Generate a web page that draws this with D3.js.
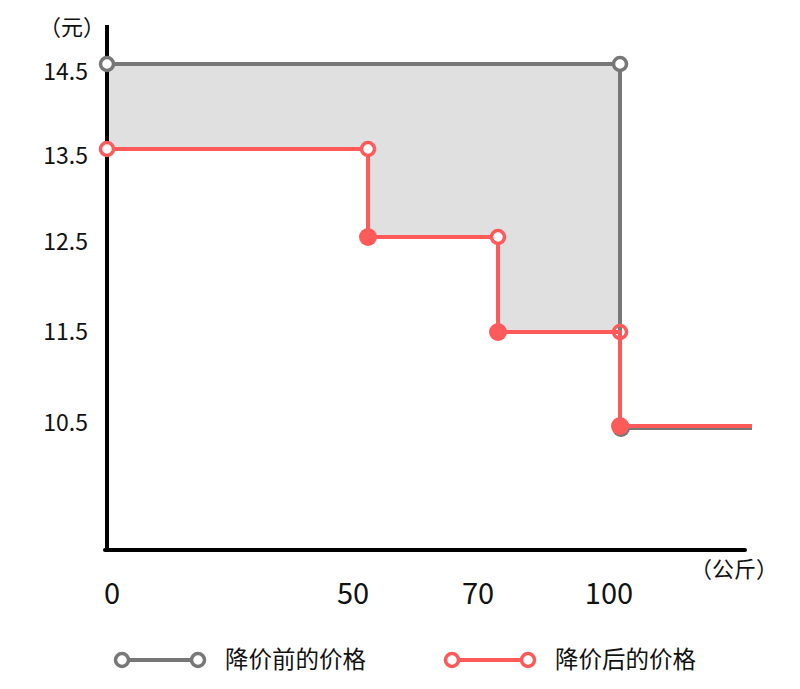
<!DOCTYPE html>
<html><head><meta charset="utf-8">
<script src="https://cdn.jsdelivr.net/npm/d3@7"></script>
<style>body{margin:0;background:#fff;} svg{display:block;font-family:"Noto Sans CJK SC","Noto Sans",sans-serif;}</style>
</head><body>
<script>
// ---- data ----
const xTicks = [0, 50, 70, 100];
const xEnd = 120; // unlabeled end of the steps
const yTicks = [10.5, 11.5, 12.5, 13.5, 14.5];
const beforeX = [0, 100, 100, xEnd];
const beforeY = [14.5, 14.5, 10.48, 10.48];
const beforeOpen = [[0, 14.5], [100, 14.5]];
const beforeFilled = [[100, 10.48]];
const afterX = [0, 50, 50, 70, 70, 100, 100, xEnd];
const afterY = [13.5, 13.5, 12.5, 12.5, 11.5, 11.5, 10.5, 10.5];
const afterOpen = [[0, 13.5], [50, 13.5], [70, 12.5], [100, 11.5]];
const afterFilled = [[50, 12.5], [70, 11.5], [100, 10.5]];
const seriesNames = ["降价前的价格", "降价后的价格"];
const colors = ["#777777", "#ff5a5a"];
const yUnit = "（元）", xUnit = "（公斤）";

// ---- scales (hand-spaced axes) ----
const W = 800, H = 689;
const x = d3.scaleLinear().domain([0, 50, 70, 100, xEnd]).range([107, 368, 498, 620, 752]);
const xLabel = d3.scaleLinear().domain([0, 50, 70, 100]).range([112, 353, 478, 609]);
const y = d3.scaleLinear().domain([9.2, 10.5, 11.5, 12.5, 13.5, 14.5, 14.95]).range([550, 426, 332, 237, 149, 64, 25]);
const yLabel = d3.scaleLinear().domain([10.5, 11.5, 12.5, 13.5, 14.5]).range([423, 332, 242, 156, 72]);

const svg = d3.select("body").append("svg").attr("width", W).attr("height", H);

// shaded area between the two step lines (0..100)
const shadePts = afterX.map((v, i) => [v, afterY[i]]).filter(p => p[0] <= 100 && !(p[0] === 100 && p[1] === 10.5));
const poly = [[0, 14.5], [100, 14.5]].concat(shadePts.slice().reverse());
svg.append("path")
  .attr("d", d3.line().x(d => x(d[0])).y(d => y(d[1]))(poly) + "Z")
  .attr("fill", "#e0e0e0");

// axes
svg.append("line").attr("x1", x(0)).attr("x2", x(0)).attr("y1", y(14.95)).attr("y2", y(9.2) + 2)
  .attr("stroke", "#000").attr("stroke-width", 4);
svg.append("line").attr("x1", x(0) - 2).attr("x2", x(xEnd) - 7).attr("y1", y(9.2)).attr("y2", y(9.2))
  .attr("stroke", "#000").attr("stroke-width", 4).attr("stroke-linecap", "round");

svg.selectAll(".yt").data(yTicks).enter().append("text")
  .attr("x", 88).attr("y", d => yLabel(d)).attr("dy", "0.35em")
  .attr("text-anchor", "end").attr("font-size", 23).attr("fill", "#111").text(d => d.toFixed(1));
svg.selectAll(".xt").data(xTicks).enter().append("text")
  .attr("x", d => xLabel(d)).attr("y", 594).attr("dy", "0.35em")
  .attr("text-anchor", "middle").attr("font-size", 29).attr("fill", "#111").text(d => d);
svg.append("text").attr("x", 72).attr("y", 27).attr("dy", "0.35em").attr("text-anchor", "middle")
  .attr("font-size", 22).attr("fill", "#111").text(yUnit);
svg.append("text").attr("x", 734).attr("y", 569).attr("dy", "0.35em").attr("text-anchor", "middle")
  .attr("font-size", 22).attr("fill", "#111").text(xUnit);

// lines
const line = d3.line().x(d => x(d[0])).y(d => y(d[1]));
const beforePts = beforeX.map((v, i) => [v, beforeY[i]]);
const afterPts = afterX.map((v, i) => [v, afterY[i]]);

// white backs of red open markers
svg.selectAll(".rb").data(afterOpen).enter().append("circle")
  .attr("cx", d => x(d[0])).attr("cy", d => y(d[1])).attr("r", 6).attr("fill", "#fff");

svg.append("path").attr("d", line(beforePts)).attr("fill", "none")
  .attr("stroke", colors[0]).attr("stroke-width", 4);
svg.selectAll(".gf").data(beforeFilled).enter().append("circle")
  .attr("cx", d => x(d[0]) + 1).attr("cy", d => y(d[1])).attr("r", 9).attr("fill", colors[0]);
svg.selectAll(".go").data(beforeOpen).enter().append("circle")
  .attr("cx", d => x(d[0])).attr("cy", d => y(d[1])).attr("r", 6.5)
  .attr("fill", "#fff").attr("stroke", colors[0]).attr("stroke-width", 3.5);

svg.append("path").attr("d", line(afterPts)).attr("fill", "none")
  .attr("stroke", colors[1]).attr("stroke-width", 4);
svg.selectAll(".rf").data(afterFilled).enter().append("circle")
  .attr("cx", d => x(d[0])).attr("cy", d => y(d[1])).attr("r", 9).attr("fill", colors[1]);
svg.selectAll(".ro").data(afterOpen).enter().append("circle")
  .attr("cx", d => x(d[0])).attr("cy", d => y(d[1])).attr("r", 6.5)
  .attr("fill", d => d[0] === 100 ? "none" : "#fff").attr("stroke", colors[1]).attr("stroke-width", 3.5);

// legend
const legX = [122, 452];
seriesNames.forEach((name, i) => {
  const g = svg.append("g").attr("transform", `translate(${legX[i]},660)`);
  g.append("line").attr("x1", 0).attr("x2", 76).attr("stroke", colors[i]).attr("stroke-width", 4);
  [0, 76].forEach(cx => g.append("circle").attr("cx", cx).attr("r", 6.5)
    .attr("fill", "#fff").attr("stroke", colors[i]).attr("stroke-width", 3.5));
  g.append("text").attr("x", 103).attr("dy", "0.35em").attr("font-size", 23.5).attr("fill", "#111").text(name);
});
</script>
</body></html>
